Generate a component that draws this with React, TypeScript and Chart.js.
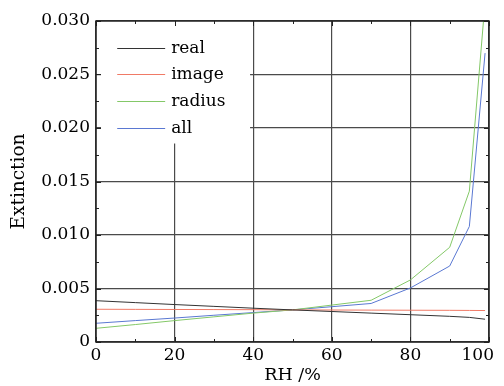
import React, { useEffect, useRef } from "react";
import { Chart, registerables } from "chart.js";

Chart.register(...registerables);

const rh = [0, 10, 20, 30, 40, 50, 60, 70, 80, 90, 95, 99];
const realVals = [0.00386, 0.00368, 0.0035, 0.00333, 0.00316, 0.003, 0.00285, 0.0027, 0.00255, 0.0024, 0.0023, 0.00213];
const imageVals = [0.00306, 0.00305, 0.00304, 0.00303, 0.00302, 0.003, 0.00299, 0.00298, 0.00297, 0.00296, 0.00295, 0.00294];
const radiusVals = [0.00128, 0.00163, 0.002, 0.00235, 0.0027, 0.003, 0.00345, 0.0039, 0.0058, 0.00885, 0.0141, 0.0318];
const allVals = [0.00175, 0.002, 0.00224, 0.0025, 0.00275, 0.003, 0.0033, 0.0036, 0.00505, 0.0071, 0.0108, 0.027];
const xTickLabels = [0, 20, 40, 60, 80, 100];

const seriesNames = ["real", "image", "radius", "all"];
const seriesColors = ["#333333", "#f07a66", "#84c868", "#5a78d2"];

const FONT = "'DejaVu Serif', serif";

export default function App() {
  const ref = useRef<HTMLCanvasElement | null>(null);
  useEffect(() => {
    const canvas = ref.current;
    if (!canvas) return;
    const series = [realVals, imageVals, radiusVals, allVals];
    const overlay = {
      id: "overlay",
      beforeDatasetsDraw(chart: any) {
        const { ctx, scales } = chart;
        const x = scales.x, y = scales.y;
        ctx.save();
        ctx.fillStyle = "#ffffff";
        const left = x.getPixelForValue(0) + 5;
        const right = x.getPixelForValue(39.2);
        const top = y.getPixelForValue(0.03);
        const bottom = y.getPixelForValue(0.01855);
        ctx.fillRect(left, top, right - left, bottom - top);
        ctx.restore();
      },
      afterDraw(chart: any) {
        const { ctx, scales, chartArea, width } = chart;
        const x = scales.x, y = scales.y;
        ctx.save();
        ctx.strokeStyle = "#222";
        ctx.lineWidth = 1;
        ctx.beginPath();
        for (let v = 0; v <= 100; v += 10) {
          const px = Math.round(x.getPixelForValue(v)) + 0.5;
          const len = v % 20 === 0 ? 5 : 3;
          ctx.moveTo(px, chartArea.bottom);
          ctx.lineTo(px, chartArea.bottom - len);
          ctx.moveTo(px, chartArea.top);
          ctx.lineTo(px, chartArea.top + len);
        }
        for (let i = 0; i <= 12; i++) {
          const v = i * 0.0025;
          const py = Math.round(y.getPixelForValue(v)) + 0.5;
          const len = i % 2 === 0 ? 5 : 3;
          ctx.moveTo(chartArea.left, py);
          ctx.lineTo(chartArea.left + len, py);
          ctx.moveTo(chartArea.right, py);
          ctx.lineTo(chartArea.right - len, py);
        }
        ctx.stroke();
        ctx.lineWidth = 1.5;
        ctx.strokeStyle = "#222";
        ctx.strokeRect(chartArea.left, chartArea.top, chartArea.right - chartArea.left, chartArea.bottom - chartArea.top);
        // x tick labels
        ctx.font = "17px " + FONT;
        ctx.fillStyle = "#000";
        ctx.textBaseline = "middle";
        ctx.textAlign = "center";
        xTickLabels.forEach((v) => {
          const s = String(v);
          const w = ctx.measureText(s).width;
          let cx = x.getPixelForValue(v);
          if (cx + w / 2 > width - 10) cx = width - 10 - w / 2;
          ctx.fillText(s, cx, chartArea.bottom + 14);
        });
        // legend
        ctx.textBaseline = "middle";
        ctx.textAlign = "left";
        const lx0 = x.getPixelForValue(5.4);
        const lx1 = x.getPixelForValue(17.6);
        seriesNames.forEach((name, i) => {
          const cy = Math.round(y.getPixelForValue(0.0275 - i * 0.0025)) + 0.5;
          ctx.strokeStyle = seriesColors[i];
          ctx.lineWidth = 1;
          ctx.beginPath();
          ctx.moveTo(lx0, cy);
          ctx.lineTo(lx1, cy);
          ctx.stroke();
          ctx.fillStyle = "#000";
          ctx.fillText(name, lx1 + 6, cy);
        });
        ctx.restore();
      },
    };
    const chart = new Chart(canvas, {
      type: "line",
      data: {
        datasets: series.map((vals, i) => ({
          label: seriesNames[i],
          data: rh.map((r, j) => ({ x: r, y: vals[j] })),
          borderColor: seriesColors[i],
          borderWidth: 1,
          pointRadius: 0,
          fill: false,
          tension: 0,
        })),
      },
      options: {
        animation: false,
        responsive: false,
        maintainAspectRatio: false,
        layout: { padding: { top: 21, right: 15, left: 0, bottom: 0 } },
        plugins: { legend: { display: false }, tooltip: { enabled: false } },
        scales: {
          x: {
            type: "linear",
            min: 0,
            max: 100,
            afterFit(scale: any) {
              scale.height = 44;
              scale.paddingLeft = 0;
              scale.paddingRight = 0;
            },
            ticks: { stepSize: 20, display: false },
            grid: { color: "#4a4a4a", lineWidth: 1.2, drawTicks: false },
            border: { display: false },
            title: {
              display: true,
              text: "RH /%",
              color: "#000",
              font: { family: FONT, size: 17.5 },
              padding: { top: 0, bottom: 0 },
            },
          },
          y: {
            type: "linear",
            min: 0,
            max: 0.03,
            afterFit(scale: any) { scale.width = 96; },
            ticks: {
              stepSize: 0.005,
              padding: 6,
              color: "#000",
              font: { family: FONT, size: 17 },
              callback: (v: any) => (Math.abs(v) < 1e-9 ? "0" : Number(v).toFixed(3)),
            },
            grid: { color: "#4a4a4a", lineWidth: 1.2, drawTicks: false },
            border: { display: false },
            title: {
              display: true,
              text: "Extinction",
              color: "#000",
              font: { family: FONT, size: 18.5 },
              padding: { top: 8, bottom: 0 },
            },
          },
        },
      },
      plugins: [overlay],
    });
    return () => chart.destroy();
  }, []);
  return (
    <div style={{ position: "absolute", left: 0, top: 0, width: 504, height: 386, background: "#fff" }}>
      <canvas ref={ref} width={504} height={386} style={{ width: 504, height: 386 }} />
    </div>
  );
}
